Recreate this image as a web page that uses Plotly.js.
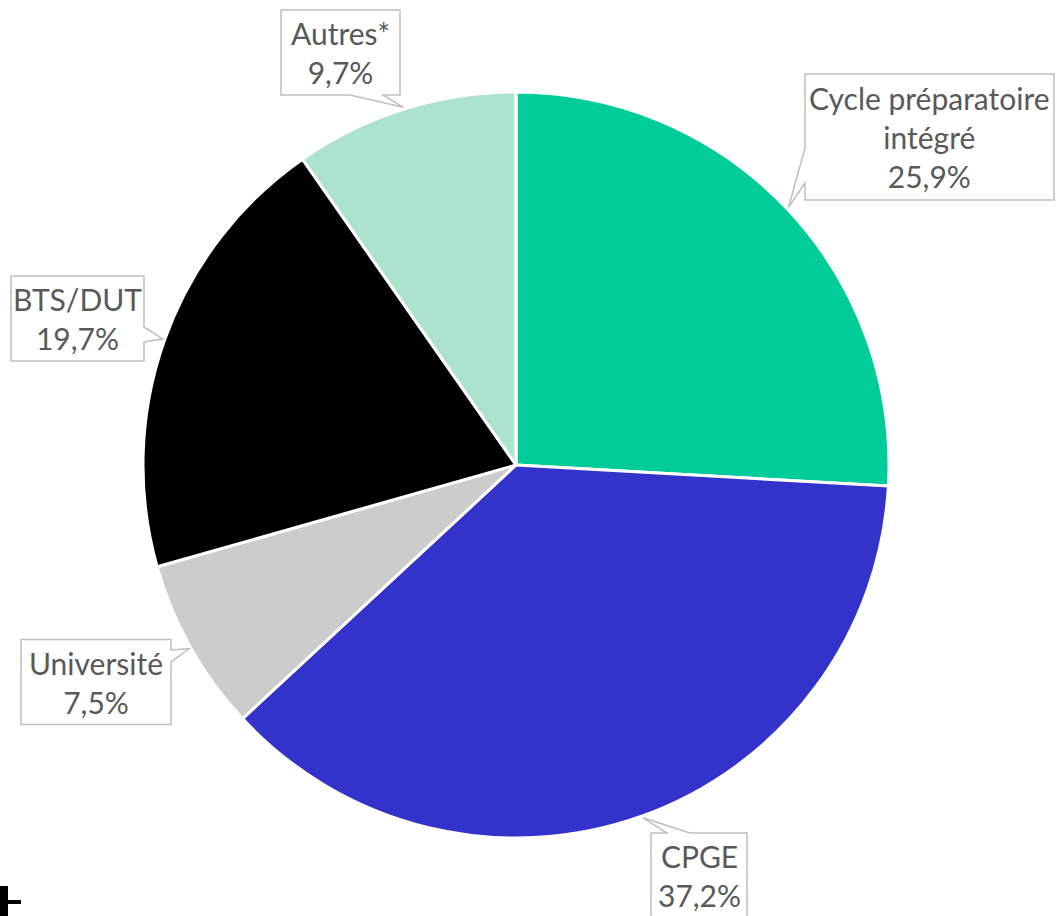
<!DOCTYPE html>
<html>
<head>
<meta charset="utf-8">
<script src="https://cdn.plot.ly/plotly-3.0.1.min.js"></script>
<style>html,body{margin:0;padding:0;background:#fff;}#chart{width:1057px;height:916px;}</style>
</head>
<body>
<div id="chart"></div>
<script>
// ---- data ----
const categories = ['Cycle préparatoire intégré', 'CPGE', 'Université', 'BTS/DUT', 'Autres*'];
const values = [25.9, 37.2, 7.5, 19.7, 9.7];
const labelText = ['Cycle préparatoire<br>intégré', 'CPGE', 'Université', 'BTS/DUT', 'Autres*'];
const colors = ['#00CC99', '#3333CC', '#CCCCCC', '#000000', '#ABE3CC'];

// ---- layout constants (pixels) ----
const W = 1057, H = 916;
const pieCx = 516, pieCy = 465, pieR = 373;
const boxes = [
  {cx: 929.5, cy: 137, w: 249, h: 126, side: 'left', b0: 148, b1: 183},
  {cx: 699, cy: 875.5, w: 96, h: 85, side: 'top', b0: 667, b1: 690},
  {cx: 96, cy: 682, w: 150, h: 85, side: 'right', b0: 650, b1: 662},
  {cx: 77.5, cy: 318.5, w: 133, h: 85, side: 'right', b0: 327, b1: 342},
  {cx: 340.5, cy: 52.5, w: 119, h: 85, side: 'bottom', b0: 350, b1: 383}
];

const px = x => x / W;
const py = y => 1 - y / H;

const total = values.reduce((a, b) => a + b, 0);
const fmt = v => v.toFixed(1).replace('.', ',') + '%';

function tipFor(i) {
  let before = 0;
  for (let k = 0; k < i; k++) before += values[k];
  const mid = (before + values[i] / 2) / total * 2 * Math.PI;
  const r = pieR + 2;
  return [pieCx + r * Math.sin(mid), pieCy - r * Math.cos(mid)];
}

function calloutPath(b, tip) {
  const L = b.cx - b.w / 2, R = b.cx + b.w / 2, T = b.cy - b.h / 2, B = b.cy + b.h / 2;
  const pts = [[L, T]];
  if (b.side === 'top') pts.push([b.b0, T], tip, [b.b1, T]);
  pts.push([R, T]);
  if (b.side === 'right') pts.push([R, b.b0], tip, [R, b.b1]);
  pts.push([R, B]);
  if (b.side === 'bottom') pts.push([b.b1, B], tip, [b.b0, B]);
  pts.push([L, B]);
  if (b.side === 'left') pts.push([L, b.b1], tip, [L, b.b0]);
  return 'M' + pts.map(p => px(p[0]).toFixed(5) + ',' + py(p[1]).toFixed(5)).join(' L') + ' Z';
}

const shapes = [];
const annotations = [];
categories.forEach((c, i) => {
  const b = boxes[i];
  shapes.push({
    type: 'path', xref: 'paper', yref: 'paper', layer: 'above',
    path: calloutPath(b, tipFor(i)),
    fillcolor: '#FFFFFF', line: {color: '#BFBFBF', width: 1.5}
  });
  annotations.push({
    xref: 'paper', yref: 'paper', x: px(b.cx), y: py(b.cy),
    xanchor: 'center', yanchor: 'middle', showarrow: false, align: 'center',
    text: labelText[i] + '<br>' + fmt(values[i]),
    font: {family: 'Lato, sans-serif', size: 30, color: '#595959'}
  });
});

// small black fragment at bottom-left corner
shapes.push({type: 'rect', xref: 'paper', yref: 'paper', layer: 'above',
  x0: px(0), x1: px(8), y0: py(916), y1: py(886), fillcolor: '#000', line: {width: 0}});
shapes.push({type: 'rect', xref: 'paper', yref: 'paper', layer: 'above',
  x0: px(8), x1: px(21), y0: py(904), y1: py(900), fillcolor: '#000', line: {width: 0}});

const trace = {
  type: 'pie',
  labels: categories,
  values: values,
  sort: false,
  direction: 'clockwise',
  rotation: 0,
  textinfo: 'none',
  hoverinfo: 'label+percent',
  marker: {colors: colors, line: {color: '#FFFFFF', width: 3}},
  domain: {x: [px(pieCx - pieR), px(pieCx + pieR)], y: [py(pieCy + pieR), py(pieCy - pieR)]}
};

const layout = {
  width: W, height: H,
  margin: {l: 0, r: 0, t: 0, b: 0},
  paper_bgcolor: '#FFFFFF',
  showlegend: false,
  shapes: shapes,
  annotations: annotations
};

Plotly.newPlot('chart', [trace], layout, {displayModeBar: false, staticPlot: true});
</script>
</body>
</html>
